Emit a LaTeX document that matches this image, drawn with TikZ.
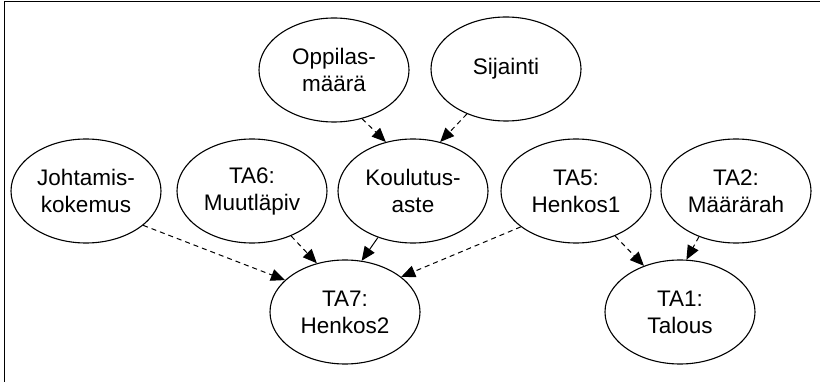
\documentclass[tikz,border=0pt]{standalone}
\usepackage{fontspec}
\setmainfont{Liberation Sans}
\usetikzlibrary{shapes.geometric,arrows.meta}
\begin{document}
\begin{tikzpicture}[x=1pt,y=-1pt,
  var/.style={draw=black,line width=1.1pt,ellipse,minimum width=150pt,minimum height=104pt,inner sep=0pt,align=center,font=\fontsize{22.5}{27}\selectfont},
  dep/.style={line width=1pt,dash pattern=on 5pt off 4pt,-{Triangle[length=14pt,width=12pt]}},
  sdep/.style={line width=1pt,-{Triangle[length=14pt,width=12pt]}}]
\useasboundingbox (0,0) rectangle (820,382);
\draw[line width=1.6pt] (4.5,382) -- (4.5,1.5) -- (820,1.5);
\node[var] (opp) at (334,70) {Oppilas-\\määrä};
\node[var] (sij) at (506,69) {Sijainti};
\node[var] (joh) at (86,191) {Johtamis-\\kokemus};
\node[var] (ta6) at (252,191) {TA6:\\Muutläpiv};
\node[var] (kou) at (413,191) {Koulutus-\\aste};
\node[var] (ta5) at (576,191) {TA5:\\Henkos1};
\node[var] (ta2) at (736,191) {TA2:\\Määrärah};
\node[var] (ta7) at (345,312) {TA7:\\Henkos2};
\node[var] (ta1) at (680,312) {TA1:\\Talous};
\draw[dep] (opp.-60) -- (kou.119);
\draw[dep] (sij.-131) -- (kou.61);
\draw[dep] (joh.-31) -- (ta7.152);
\draw[dep] (ta6.-49) -- (ta7.120);
\draw[sdep] (kou.-127) -- (ta7.72);
\draw[dep] (ta5.-147) -- (ta7.32);
\draw[dep] (ta5.-49) -- (ta1.128);
\draw[dep] (ta2.-129) -- (ta1.83);
\end{tikzpicture}
\end{document}
